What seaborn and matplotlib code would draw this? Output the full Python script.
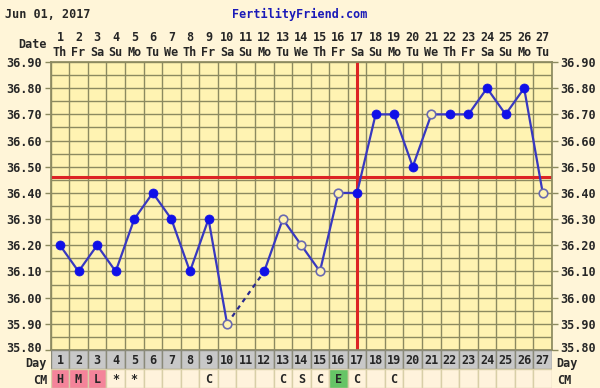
import numpy as np
import pandas as pd
import seaborn as sns
import matplotlib.pyplot as plt
import matplotlib.transforms as mtransforms

# chart data
days = list(range(1, 28))
weekdays = ["Th", "Fr", "Sa", "Su", "Mo", "Tu", "We", "Th", "Fr", "Sa", "Su", "Mo", "Tu", "We",
            "Th", "Fr", "Sa", "Su", "Mo", "Tu", "We", "Th", "Fr", "Sa", "Su", "Mo", "Tu"]
temps = [36.20, 36.10, 36.20, 36.10, 36.30, 36.40, 36.30, 36.10, 36.30, 35.90,
         np.nan, 36.10, 36.30, 36.20, 36.10, 36.40, 36.40, 36.70, 36.70, 36.50,
         36.70, 36.70, 36.70, 36.80, 36.70, 36.80, 36.40]
is_open = [0, 0, 0, 0, 0, 0, 0, 0, 0, 1, 0, 0, 1, 1, 1, 1, 0, 0, 0, 0, 1, 0, 0, 0, 0, 0, 1]
cm_labels = ["H", "M", "L", "*", "*", "", "", "", "C", "", "", "", "C", "S", "C", "E", "C",
             "", "C", "", "", "", "", "", "", "", ""]
cm_colors = {"H": "#f4849a", "M": "#f4849a", "L": "#f4849a", "E": "#66c466"}
coverline = 36.46
ovulation_day = 17
ytick_vals = [35.80, 35.90, 36.00, 36.10, 36.20, 36.30, 36.40, 36.50, 36.60, 36.70, 36.80, 36.90]

df = pd.DataFrame({"day": days, "temp": temps, "open": is_open})

sns.set_theme(style="white")
plt.rcParams["font.family"] = ["DejaVu Sans Mono"]
plt.rcParams["font.weight"] = "bold"

fs = 8.5
bg = "#fff5d8"
plot_bg = "#fff3b2"
grid_c = "#8c8a60"
blue = "#3838c0"

fig = plt.figure(figsize=(6, 3.88), dpi=100, facecolor=bg)
x0, x1 = 50.7 / 600, 552 / 600
ax = fig.add_axes([x0, 1 - 350 / 388, x1 - x0, 288 / 388])
tb = fig.add_axes([x0, 0, x1 - x0, 38 / 388])

ax.set_facecolor(plot_bg)
ax.set_xlim(0.5, 27.5)
ax.set_ylim(35.80, 36.90)

# grid
for d in days + [0]:
    ax.axvline(d + 0.5, color=grid_c, lw=1, zorder=1)
for y in np.arange(35.80, 36.901, 0.05):
    ax.axhline(y, color=grid_c, lw=1, zorder=1)

# temperature line (gap on day 11 bridged by a dashed line)
seg1 = df[df["day"] <= 10]
seg2 = df[df["day"] >= 12]
sns.lineplot(data=seg1, x="day", y="temp", ax=ax, color=blue, lw=1.6, zorder=3)
sns.lineplot(data=seg2, x="day", y="temp", ax=ax, color=blue, lw=1.6, zorder=3)
gap = df[df["day"].isin([10, 12])]
ax.plot(gap["day"], gap["temp"], color="#2a2a90", lw=1.6, ls=(0, (2, 2)), zorder=3)

filled = df[(df["open"] == 0) & df["temp"].notna()]
hollow = df[df["open"] == 1]
sns.scatterplot(data=filled, x="day", y="temp", ax=ax, color="#1010e8", s=42,
                edgecolor="#1010e8", zorder=4)
sns.scatterplot(data=hollow, x="day", y="temp", ax=ax, facecolor=plot_bg, s=38,
                edgecolor="#6a6ab0", linewidth=1.2, zorder=4)

ax.axhline(coverline, color="#dd2424", lw=2.2, zorder=2)
ax.axvline(ovulation_day, color="#dd2424", lw=2.2, zorder=2)

ax.set_xlabel("")
ax.set_ylabel("")
ax.set_yticks(ytick_vals)
ax.set_yticklabels([f"{v:.2f}" for v in ytick_vals])
ax.tick_params(axis="y", left=True, right=True, labelleft=True, labelright=True,
               length=4, width=1, color=grid_c, labelsize=fs, pad=2)
ax.set_xticks(days)
ax.set_xticklabels([f"{d}\n{w}" for d, w in zip(days, weekdays)], linespacing=1.2)
ax.tick_params(axis="x", bottom=False, top=False, labelbottom=False, labeltop=True,
               labelsize=fs, length=0, pad=2.5)
for lbl in ax.get_xticklabels() + ax.get_yticklabels():
    lbl.set_fontweight("bold")
for s in ax.spines.values():
    s.set_color(grid_c)

# nudge the lowest temperature labels up a little, clear of the "Day" labels
lift = mtransforms.ScaledTranslation(0, 2 / 72, fig.dpi_scale_trans)
for t in (ax.yaxis.get_major_ticks()[0].label1, ax.yaxis.get_major_ticks()[0].label2):
    t.set_transform(t.get_transform() + lift)

# day / CM table
tb.set_xlim(0.5, 27.5)
tb.set_ylim(0, 2)
tb.axis("off")
tb.bar(days, 1, bottom=1, width=1, color="#c8c8c8", edgecolor="#8a8a7a", lw=1)
tb.bar(days, 1, bottom=0, width=1, color=[cm_colors.get(c, "#fff3dc") for c in cm_labels],
       edgecolor="#d8cfa8", lw=1)
for d, c in zip(days, cm_labels):
    tb.text(d, 1.45, str(d), ha="center", va="center", fontsize=fs, fontweight="bold")
    if c:
        tb.text(d, 0.45, c, ha="center", va="center", fontsize=fs, fontweight="bold")
for label, yy in [("Day", 1.28), ("CM", 0.4)]:
    tb.text(0.3, yy, label, ha="right", va="center", fontsize=fs, fontweight="bold")
    tb.text(27.75, yy, label, ha="left", va="center", fontsize=fs, fontweight="bold")

# header
fig.text(5 / 600, 1 - 14 / 388, "Jun 01, 2017", ha="left", va="center", fontsize=fs,
         fontweight="bold")
fig.text(300 / 600, 1 - 14 / 388, "FertilityFriend.com", ha="center", va="center",
         fontsize=fs, fontweight="bold", color="#1a1ab8")
fig.text(47 / 600, 1 - 44 / 388, "Date", ha="right", va="center", fontsize=fs,
         fontweight="bold")

fig.savefig("out.png", dpi=100, facecolor=bg)
